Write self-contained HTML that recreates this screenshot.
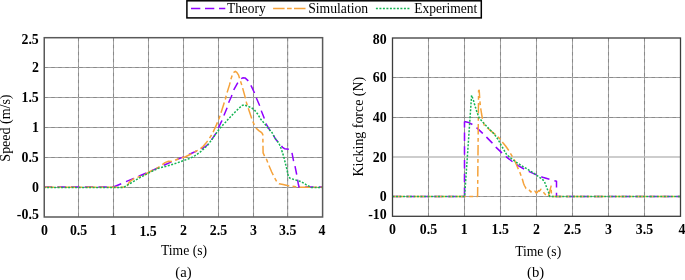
<!DOCTYPE html><html><head><meta charset="utf-8"><style>html,body{margin:0;padding:0;background:#fff;width:685px;height:280px;overflow:hidden}svg{display:block;will-change:transform}text{font-family:"Liberation Serif",serif;fill:#000}</style></head><body>
<svg width="685" height="280" viewBox="0 0 685 280">
<rect width="685" height="280" fill="#fff"/>
<line x1="78.50" y1="37.70" x2="78.50" y2="217.00" stroke="#a2a2a2" stroke-width="1.05"/>
<line x1="78.50" y1="37.70" x2="78.50" y2="217.00" stroke="#8a8a8a" stroke-width="1.05" stroke-dasharray="3.5,3.5"/>
<line x1="113.50" y1="37.70" x2="113.50" y2="217.00" stroke="#a2a2a2" stroke-width="1.05"/>
<line x1="113.50" y1="37.70" x2="113.50" y2="217.00" stroke="#8a8a8a" stroke-width="1.05" stroke-dasharray="3.5,3.5"/>
<line x1="148.50" y1="37.70" x2="148.50" y2="217.00" stroke="#a2a2a2" stroke-width="1.05"/>
<line x1="148.50" y1="37.70" x2="148.50" y2="217.00" stroke="#8a8a8a" stroke-width="1.05" stroke-dasharray="3.5,3.5"/>
<line x1="183.50" y1="37.70" x2="183.50" y2="217.00" stroke="#a2a2a2" stroke-width="1.05"/>
<line x1="183.50" y1="37.70" x2="183.50" y2="217.00" stroke="#8a8a8a" stroke-width="1.05" stroke-dasharray="3.5,3.5"/>
<line x1="218.50" y1="37.70" x2="218.50" y2="217.00" stroke="#a2a2a2" stroke-width="1.05"/>
<line x1="218.50" y1="37.70" x2="218.50" y2="217.00" stroke="#8a8a8a" stroke-width="1.05" stroke-dasharray="3.5,3.5"/>
<line x1="253.50" y1="37.70" x2="253.50" y2="217.00" stroke="#a2a2a2" stroke-width="1.05"/>
<line x1="253.50" y1="37.70" x2="253.50" y2="217.00" stroke="#8a8a8a" stroke-width="1.05" stroke-dasharray="3.5,3.5"/>
<line x1="287.60" y1="37.70" x2="287.60" y2="217.00" stroke="#a2a2a2" stroke-width="1.05"/>
<line x1="287.60" y1="37.70" x2="287.60" y2="217.00" stroke="#8a8a8a" stroke-width="1.05" stroke-dasharray="3.5,3.5"/>
<line x1="44.25" y1="67.50" x2="322.60" y2="67.50" stroke="#a2a2a2" stroke-width="1.05"/>
<line x1="44.25" y1="67.50" x2="322.60" y2="67.50" stroke="#8a8a8a" stroke-width="1.05" stroke-dasharray="3.5,3.5"/>
<line x1="44.25" y1="97.50" x2="322.60" y2="97.50" stroke="#a2a2a2" stroke-width="1.05"/>
<line x1="44.25" y1="97.50" x2="322.60" y2="97.50" stroke="#8a8a8a" stroke-width="1.05" stroke-dasharray="3.5,3.5"/>
<line x1="44.25" y1="127.50" x2="322.60" y2="127.50" stroke="#a2a2a2" stroke-width="1.05"/>
<line x1="44.25" y1="127.50" x2="322.60" y2="127.50" stroke="#8a8a8a" stroke-width="1.05" stroke-dasharray="3.5,3.5"/>
<line x1="44.25" y1="157.50" x2="322.60" y2="157.50" stroke="#a2a2a2" stroke-width="1.05"/>
<line x1="44.25" y1="157.50" x2="322.60" y2="157.50" stroke="#8a8a8a" stroke-width="1.05" stroke-dasharray="3.5,3.5"/>
<line x1="44.25" y1="187.45" x2="322.60" y2="187.45" stroke="#a2a2a2" stroke-width="1.05"/>
<line x1="44.25" y1="187.45" x2="322.60" y2="187.45" stroke="#8a8a8a" stroke-width="1.05" stroke-dasharray="3.5,3.5"/>
<line x1="428.50" y1="38.00" x2="428.50" y2="216.30" stroke="#a2a2a2" stroke-width="1.05"/>
<line x1="428.50" y1="38.00" x2="428.50" y2="216.30" stroke="#8a8a8a" stroke-width="1.05" stroke-dasharray="3.5,3.5"/>
<line x1="464.50" y1="38.00" x2="464.50" y2="216.30" stroke="#a2a2a2" stroke-width="1.05"/>
<line x1="464.50" y1="38.00" x2="464.50" y2="216.30" stroke="#8a8a8a" stroke-width="1.05" stroke-dasharray="3.5,3.5"/>
<line x1="500.50" y1="38.00" x2="500.50" y2="216.30" stroke="#a2a2a2" stroke-width="1.05"/>
<line x1="500.50" y1="38.00" x2="500.50" y2="216.30" stroke="#8a8a8a" stroke-width="1.05" stroke-dasharray="3.5,3.5"/>
<line x1="536.50" y1="38.00" x2="536.50" y2="216.30" stroke="#a2a2a2" stroke-width="1.05"/>
<line x1="536.50" y1="38.00" x2="536.50" y2="216.30" stroke="#8a8a8a" stroke-width="1.05" stroke-dasharray="3.5,3.5"/>
<line x1="572.50" y1="38.00" x2="572.50" y2="216.30" stroke="#a2a2a2" stroke-width="1.05"/>
<line x1="572.50" y1="38.00" x2="572.50" y2="216.30" stroke="#8a8a8a" stroke-width="1.05" stroke-dasharray="3.5,3.5"/>
<line x1="608.50" y1="38.00" x2="608.50" y2="216.30" stroke="#a2a2a2" stroke-width="1.05"/>
<line x1="608.50" y1="38.00" x2="608.50" y2="216.30" stroke="#8a8a8a" stroke-width="1.05" stroke-dasharray="3.5,3.5"/>
<line x1="644.50" y1="38.00" x2="644.50" y2="216.30" stroke="#a2a2a2" stroke-width="1.05"/>
<line x1="644.50" y1="38.00" x2="644.50" y2="216.30" stroke="#8a8a8a" stroke-width="1.05" stroke-dasharray="3.5,3.5"/>
<line x1="392.50" y1="77.50" x2="680.50" y2="77.50" stroke="#a2a2a2" stroke-width="1.05"/>
<line x1="392.50" y1="77.50" x2="680.50" y2="77.50" stroke="#8a8a8a" stroke-width="1.05" stroke-dasharray="3.5,3.5"/>
<line x1="392.50" y1="117.50" x2="680.50" y2="117.50" stroke="#a2a2a2" stroke-width="1.05"/>
<line x1="392.50" y1="117.50" x2="680.50" y2="117.50" stroke="#8a8a8a" stroke-width="1.05" stroke-dasharray="3.5,3.5"/>
<line x1="392.50" y1="196.40" x2="680.50" y2="196.40" stroke="#a2a2a2" stroke-width="1.05"/>
<line x1="392.50" y1="196.40" x2="680.50" y2="196.40" stroke="#8a8a8a" stroke-width="1.05" stroke-dasharray="3.5,3.5"/>
<line x1="392.50" y1="157.0" x2="680.50" y2="157.0" stroke="#bdbdbd" stroke-width="1.3"/>
<text x="21.47" y="43.78" font-size="14.3" font-weight="bold" textLength="17.34" lengthAdjust="spacingAndGlyphs">2.5</text>
<text x="31.96" y="71.68" font-size="14.3" font-weight="bold" textLength="6.94" lengthAdjust="spacingAndGlyphs">2</text>
<text x="21.47" y="101.88" font-size="14.3" font-weight="bold" textLength="17.34" lengthAdjust="spacingAndGlyphs">1.5</text>
<text x="32.09" y="131.78" font-size="14.3" font-weight="bold" textLength="6.94" lengthAdjust="spacingAndGlyphs">1</text>
<text x="21.47" y="161.78" font-size="14.3" font-weight="bold" textLength="17.34" lengthAdjust="spacingAndGlyphs">0.5</text>
<text x="31.89" y="192.18" font-size="14.3" font-weight="bold" textLength="6.94" lengthAdjust="spacingAndGlyphs">0</text>
<text x="16.86" y="218.58" font-size="14.3" font-weight="bold" textLength="21.96" lengthAdjust="spacingAndGlyphs">-0.5</text>
<text x="372.86" y="44.18" font-size="14.3" font-weight="bold" textLength="13.87" lengthAdjust="spacingAndGlyphs">80</text>
<text x="372.86" y="82.38" font-size="14.3" font-weight="bold" textLength="13.87" lengthAdjust="spacingAndGlyphs">60</text>
<text x="372.86" y="121.88" font-size="14.3" font-weight="bold" textLength="13.87" lengthAdjust="spacingAndGlyphs">40</text>
<text x="372.86" y="161.58" font-size="14.3" font-weight="bold" textLength="13.87" lengthAdjust="spacingAndGlyphs">20</text>
<text x="379.79" y="200.88" font-size="14.3" font-weight="bold" textLength="6.94" lengthAdjust="spacingAndGlyphs">0</text>
<text x="368.24" y="218.58" font-size="14.3" font-weight="bold" textLength="18.49" lengthAdjust="spacingAndGlyphs">-10</text>
<text x="41.03" y="235.30" font-size="14.3" font-weight="bold" textLength="6.94" lengthAdjust="spacingAndGlyphs">0</text>
<text x="69.92" y="235.30" font-size="14.3" font-weight="bold" textLength="17.34" lengthAdjust="spacingAndGlyphs">0.5</text>
<text x="109.74" y="235.30" font-size="14.3" font-weight="bold" textLength="6.94" lengthAdjust="spacingAndGlyphs">1</text>
<text x="139.43" y="236.00" font-size="14.3" font-weight="bold" textLength="17.34" lengthAdjust="spacingAndGlyphs">1.5</text>
<text x="180.04" y="235.30" font-size="14.3" font-weight="bold" textLength="6.94" lengthAdjust="spacingAndGlyphs">2</text>
<text x="209.80" y="235.30" font-size="14.3" font-weight="bold" textLength="17.34" lengthAdjust="spacingAndGlyphs">2.5</text>
<text x="249.90" y="235.30" font-size="14.3" font-weight="bold" textLength="6.94" lengthAdjust="spacingAndGlyphs">3</text>
<text x="279.12" y="235.30" font-size="14.3" font-weight="bold" textLength="17.34" lengthAdjust="spacingAndGlyphs">3.5</text>
<text x="318.47" y="235.30" font-size="14.3" font-weight="bold" textLength="6.94" lengthAdjust="spacingAndGlyphs">4</text>
<text x="389.03" y="234.00" font-size="14.3" font-weight="bold" textLength="6.94" lengthAdjust="spacingAndGlyphs">0</text>
<text x="419.82" y="234.00" font-size="14.3" font-weight="bold" textLength="17.34" lengthAdjust="spacingAndGlyphs">0.5</text>
<text x="460.84" y="234.00" font-size="14.3" font-weight="bold" textLength="6.94" lengthAdjust="spacingAndGlyphs">1</text>
<text x="491.53" y="234.00" font-size="14.3" font-weight="bold" textLength="17.34" lengthAdjust="spacingAndGlyphs">1.5</text>
<text x="533.04" y="234.00" font-size="14.3" font-weight="bold" textLength="6.94" lengthAdjust="spacingAndGlyphs">2</text>
<text x="563.80" y="234.00" font-size="14.3" font-weight="bold" textLength="17.34" lengthAdjust="spacingAndGlyphs">2.5</text>
<text x="605.00" y="234.00" font-size="14.3" font-weight="bold" textLength="6.94" lengthAdjust="spacingAndGlyphs">3</text>
<text x="635.82" y="234.00" font-size="14.3" font-weight="bold" textLength="17.34" lengthAdjust="spacingAndGlyphs">3.5</text>
<text x="678.47" y="234.00" font-size="14.3" font-weight="bold" textLength="6.94" lengthAdjust="spacingAndGlyphs">4</text>
<text x="160.95" y="254.90" font-size="14" textLength="46.15" lengthAdjust="spacingAndGlyphs">Time (s)</text>
<text x="175.25" y="277.10" font-size="14" textLength="16.29" lengthAdjust="spacingAndGlyphs">(a)</text>
<text x="515.15" y="255.60" font-size="14" textLength="46.05" lengthAdjust="spacingAndGlyphs">Time (s)</text>
<text x="527.06" y="276.90" font-size="14" textLength="17.09" lengthAdjust="spacingAndGlyphs">(b)</text>
<text transform="translate(10.00,161.64) rotate(-90)" x="0" y="0" font-size="14" textLength="67.15" lengthAdjust="spacingAndGlyphs">Speed (m/s)</text>
<text transform="translate(362.60,176.50) rotate(-90)" x="0" y="0" font-size="14" textLength="99.61" lengthAdjust="spacingAndGlyphs">Kicking force (N)</text>
<defs><clipPath id="ca"><rect x="44.25" y="37.7" width="278.35" height="179.3"/></clipPath><clipPath id="cb"><rect x="392.5" y="38" width="288" height="178.3"/></clipPath></defs>
<g clip-path="url(#ca)" fill="none" stroke-width="1.5" stroke-linejoin="round">
<path d="M43.6,187.0 L113.4,187.0" stroke="#9000ff" stroke-dasharray="8.5,5.2" stroke-dashoffset="0"/>
<path d="M113.4,187.0 L121.3,183.7 L133.7,178.4 L146.6,172.9 L159.0,167.4 L172.0,161.6 L185.0,156.3 L197.0,150.9 L203.0,148.0 L206.7,145.5 L210.0,142.0 L213.0,137.6 L216.1,133.1 L218.6,127.5 L221.9,120.6 L223.9,115.5 L227.2,107.5 L229.0,101.7 L231.2,97.0 L233.9,89.7 L237.9,82.4 L240.5,79.0 L242.8,77.8 L245.0,77.9 L248.8,81.3 L251.4,86.4 L254.7,93.3 L256.7,98.7 L260.0,106.4 L261.6,111.5 L264.7,119.5 L266.5,124.6 L269.5,129.7 L271.9,132.4 L275.5,139.0 L279.2,143.3 L282.6,147.3 L284.5,148.7 L289.8,149.3 L291.8,151.8 L293.4,160.2 L294.9,165.7 L296.5,173.5 L298.3,184.0 L299.0,187.0 L322.6,187.0" stroke="#9000ff" stroke-dasharray="8.5,5.2" stroke-dashoffset="0"/>
<path d="M43.6,187.3 L125.5,187.3 L127.3,185.6 L129.0,182.5 L131.0,180.6 L133.7,178.8 L145.0,174.6 L150.0,171.5 L158.0,167.7 L161.0,165.6 L165.0,162.6 L168.5,161.3 L172.0,161.4 L174.5,160.5 L180.0,158.2 L185.0,157.0 L190.0,154.5 L195.0,151.6 L199.4,149.6 L203.0,146.5 L206.0,143.1 L209.2,138.7 L212.4,133.7 L216.4,124.9 L219.3,118.0 L220.2,115.2 L223.5,104.9 L225.7,98.0 L226.2,95.5 L229.5,84.9 L230.8,79.5 L232.3,75.1 L233.8,72.3 L235.3,71.3 L236.8,72.3 L238.6,75.1 L240.1,80.2 L241.9,85.3 L244.8,95.9 L246.5,102.7 L247.8,107.0 L250.8,115.8 L252.3,120.4 L254.1,124.4 L256.2,128.2 L258.8,130.6 L261.7,132.7 L262.8,134.5 L263.1,152.9 L264.6,156.2 L266.8,159.9 L268.5,164.5 L271.7,172.0 L274.6,177.9 L277.0,182.1 L279.0,183.8 L283.1,184.6 L287.2,185.6 L294.5,186.6 L299.0,187.3 L322.6,187.3" stroke="#f5a23a" stroke-dasharray="10.6,3.3,3.8,3.3"/>
<path d="M43.6,187.5 L123.4,187.5 L127.7,184.9 L133.7,181.3 L142.3,176.3 L149.1,172.7 L158.0,168.4 L170.0,165.2 L180.0,161.9 L190.0,158.3 L195.0,155.7 L200.0,152.2 L205.2,147.5 L208.1,144.6 L212.5,138.7 L218.2,130.4 L221.9,126.0 L225.5,122.3 L228.1,119.3 L233.2,113.9 L238.4,108.8 L242.0,105.5 L244.2,104.9 L247.1,106.1 L251.5,107.7 L254.4,109.9 L258.1,114.6 L260.6,119.0 L264.7,123.9 L269.1,129.3 L271.9,132.4 L275.5,139.0 L278.6,142.8 L280.3,146.3 L281.6,150.0 L283.6,156.2 L285.8,165.0 L287.0,169.8 L288.1,175.2 L289.9,178.2 L294.4,179.6 L301.0,181.6 L306.0,184.6 L310.1,186.9 L311.5,187.5 L322.6,187.5" stroke="#15b454" stroke-dasharray="2,1.5"/>
</g>
<g clip-path="url(#cb)" fill="none" stroke-width="1.5" stroke-linejoin="round">
<path d="M392.5,196.5 L464.5,196.5" stroke="#9000ff" stroke-dasharray="8.5,5.2" stroke-dashoffset="0"/>
<path d="M464.5,121.6 L464.5,196.5" stroke="#9000ff" stroke-dasharray="8.5,5.2" stroke-dashoffset="2.7"/>
<path d="M464.5,121.6 L468.5,122.4 L472.5,124.6 L476.5,127.6 L482.7,133.4 L486.5,137.1 L491.9,142.6 L496.1,147.4 L501.9,152.9 L506.3,156.8 L512.6,161.8 L518.1,165.6 L524.3,169.1 L529.8,171.9 L537.1,175.2 L542.6,177.3 L550.8,179.6 L556.5,181.3 L556.5,196.5 L680.5,196.5" stroke="#9000ff" stroke-dasharray="8.5,5.2" stroke-dashoffset="0"/>
<path d="M392.5,196.5 L477.6,196.5 L478.6,90.4 L479.2,90.3 L479.8,100.0 L480.4,106.5 L481.5,113.5 L482.4,118.4 L484.2,125.1 L489.5,129.8 L495.2,134.4 L500.3,139.1 L502.9,142.8 L505.6,146.0 L508.6,150.3 L512.5,156.8 L514.7,160.6 L517.2,166.5 L520.0,172.8 L522.4,179.3 L523.5,183.2 L524.4,185.5 L526.0,188.4 L528.3,188.9 L529.9,190.9 L530.9,191.9 L532.5,191.2 L533.7,192.2 L535.0,191.2 L536.3,193.2 L537.6,191.9 L538.6,190.6 L539.5,191.2 L540.8,189.3 L541.5,189.6 L542.7,190.6 L544.0,192.9 L545.6,194.8 L547.2,196.5 L548.5,195.9 L551.1,186.1 L551.5,196.5 L680.5,196.5" stroke="#f5a23a" stroke-dasharray="10.6,3.3,3.8,3.3"/>
<path d="M392.5,196.5 L464.6,196.5 L471.6,95.3 L473.2,99.5 L474.3,103.5 L476.9,112.0 L479.1,117.9 L484.2,123.7 L489.8,129.5 L494.5,134.4 L498.1,139.5 L500.7,144.4 L503.2,148.6 L506.7,154.6 L512.5,159.5 L517.6,163.2 L523.5,166.8 L526.9,168.8 L534.2,173.5 L539.3,177.2 L540.7,178.2 L544.3,181.1 L546.5,187.0 L548.7,192.8 L549.8,196.5 L550.5,196.5 L680.5,196.5" stroke="#15b454" stroke-dasharray="2,1.5"/>
</g>
<rect x="44.25" y="37.70" width="278.35" height="179.30" stroke="#595959" stroke-width="1.5" fill="none"/>
<rect x="392.50" y="38.00" width="288.00" height="178.30" stroke="#3c3c3c" stroke-width="1.3" fill="none"/>
<rect x="186.9" y="0.8" width="294.4" height="17.1" fill="#fff" stroke="#000" stroke-width="1.5"/>
<line x1="191" y1="8.5" x2="225.3" y2="8.5" stroke="#9000ff" stroke-width="1.5" stroke-dasharray="9.3,4.7"/>
<text x="226.96" y="13.20" font-size="14.4" textLength="38.69" lengthAdjust="spacingAndGlyphs">Theory</text>
<line x1="273.1" y1="8.5" x2="305.7" y2="8.5" stroke="#f5a23a" stroke-width="1.5" stroke-dasharray="11.5,2.4,4.7,2.3"/>
<text x="308.18" y="13.20" font-size="14.4" textLength="60.02" lengthAdjust="spacingAndGlyphs">Simulation</text>
<line x1="375.9" y1="8.5" x2="409.8" y2="8.5" stroke="#15b454" stroke-width="1.5" stroke-dasharray="2,1.5"/>
<text x="414.21" y="13.20" font-size="14.4" textLength="63.17" lengthAdjust="spacingAndGlyphs">Experiment</text>
</svg></body></html>
